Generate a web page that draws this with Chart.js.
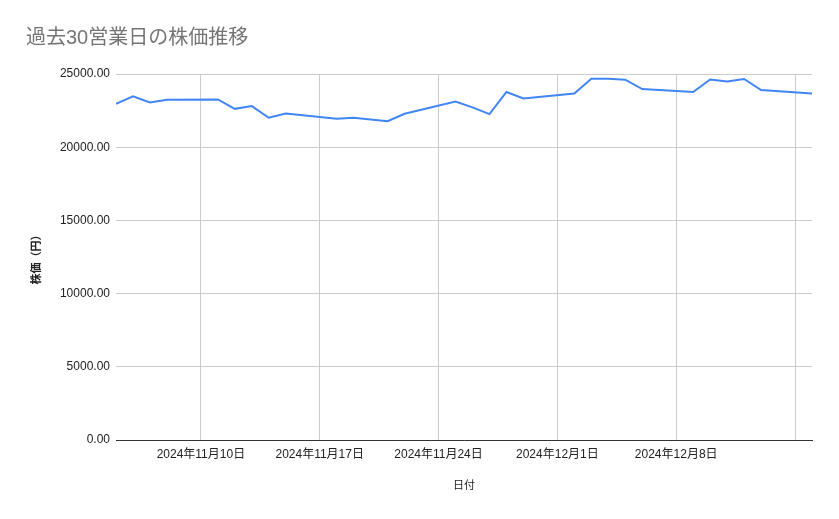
<!DOCTYPE html>
<html>
<head>
<meta charset="utf-8">
<script src="https://cdn.jsdelivr.net/npm/chart.js@4/dist/chart.umd.min.js"></script>
<style>
  html, body { margin: 0; padding: 0; background: #fff; }
  #wrap { width: 839px; height: 519px; }
</style>
</head>
<body>
<div id="wrap"><canvas id="priceChart"></canvas></div>
<script>
// 営業日（日付）
const dates = [
  '2024-11-05', '2024-11-06', '2024-11-07', '2024-11-08',
  '2024-11-11', '2024-11-12', '2024-11-13', '2024-11-14', '2024-11-15',
  '2024-11-18', '2024-11-19', '2024-11-20', '2024-11-21', '2024-11-22',
  '2024-11-25', '2024-11-26', '2024-11-27', '2024-11-28', '2024-11-29',
  '2024-12-02', '2024-12-03', '2024-12-04', '2024-12-05', '2024-12-06',
  '2024-12-09', '2024-12-10', '2024-12-11', '2024-12-12', '2024-12-13',
  '2024-12-16'
];

// 株価（円）
const prices = [
  22960, 23470, 23060, 23240,
  23260, 22620, 22810, 22010, 22300,
  21940, 22010, 21890, 21780, 22280,
  23120, 22720, 22260, 23770, 23330,
  23670, 24680, 24680, 24610, 23970,
  23770, 24630, 24490, 24660, 23900,
  23670
];

// 目盛り（日曜日ごと）
const tickDates = ['2024-11-10', '2024-11-17', '2024-11-24', '2024-12-01', '2024-12-08', '2024-12-15'];
const tickLabels = ['2024年11月10日', '2024年11月17日', '2024年11月24日', '2024年12月1日', '2024年12月8日', ''];
const yTicks = [0, 5000, 10000, 15000, 20000, 25000];

// 日付 -> 日数
function toDay(s) {
  const p = s.split('-').map(Number);
  return Date.UTC(p[0], p[1] - 1, p[2]) / 86400000;
}

const FONT = "'Liberation Sans', Arial, 'Noto Sans CJK JP', sans-serif";

const points = dates.map((d, i) => ({ x: toDay(d), y: prices[i] }));
const tickDays = tickDates.map(toDay);

const ctx = document.getElementById('priceChart').getContext('2d');

new Chart(ctx, {
  type: 'line',
  data: {
    datasets: [{
      label: '株価',
      data: points,
      borderColor: '#4285F4',
      borderWidth: 2,
      pointRadius: 0,
      tension: 0,
      fill: false
    }]
  },
  options: {
    responsive: true,
    maintainAspectRatio: false,
    animation: false,
    layout: { padding: { left: 26, right: 27, top: 0, bottom: 22 } },
    plugins: {
      legend: { display: false },
      tooltip: { enabled: false },
      title: {
        display: true,
        text: '過去30営業日の株価推移',
        align: 'start',
        color: '#757575',
        font: { family: FONT, size: 20, weight: 'normal' },
        padding: { top: 26, bottom: 24 }
      }
    },
    scales: {
      x: {
        type: 'linear',
        min: toDay(dates[0]),
        max: toDay(dates[dates.length - 1]),
        afterBuildTicks: (scale) => {
          scale.ticks = tickDays.map(v => ({ value: v }));
        },
        afterFit: (scale) => { scale.height = 57; },
        ticks: {
          autoSkip: false,
          maxRotation: 0,
          padding: 7,
          color: '#222',
          font: { family: FONT, size: 12 },
          callback: (v) => {
            const i = tickDays.indexOf(v);
            return i >= 0 ? tickLabels[i] : '';
          }
        },
        grid: { color: '#cccccc', lineWidth: 1, drawTicks: false },
        border: { display: true, color: '#333333', width: 1 },
        title: {
          display: true,
          text: '日付',
          color: '#222',
          font: { family: FONT, size: 11 }
        }
      },
      y: {
        min: 0,
        max: 25000,
        afterBuildTicks: (scale) => {
          scale.ticks = yTicks.map(v => ({ value: v }));
        },
        afterFit: (scale) => { scale.width = 90; },
        ticks: {
          padding: 6,
          color: '#222',
          font: { family: FONT, size: 12 },
          callback: (v) => v.toFixed(2)
        },
        grid: { color: '#cccccc', lineWidth: 1, drawTicks: false },
        border: { display: false },
        title: {
          display: true,
          text: '株価（円）',
          color: '#222',
          font: { family: FONT, size: 11, weight: 'bold' }
        }
      }
    }
  }
});
</script>
</body>
</html>
